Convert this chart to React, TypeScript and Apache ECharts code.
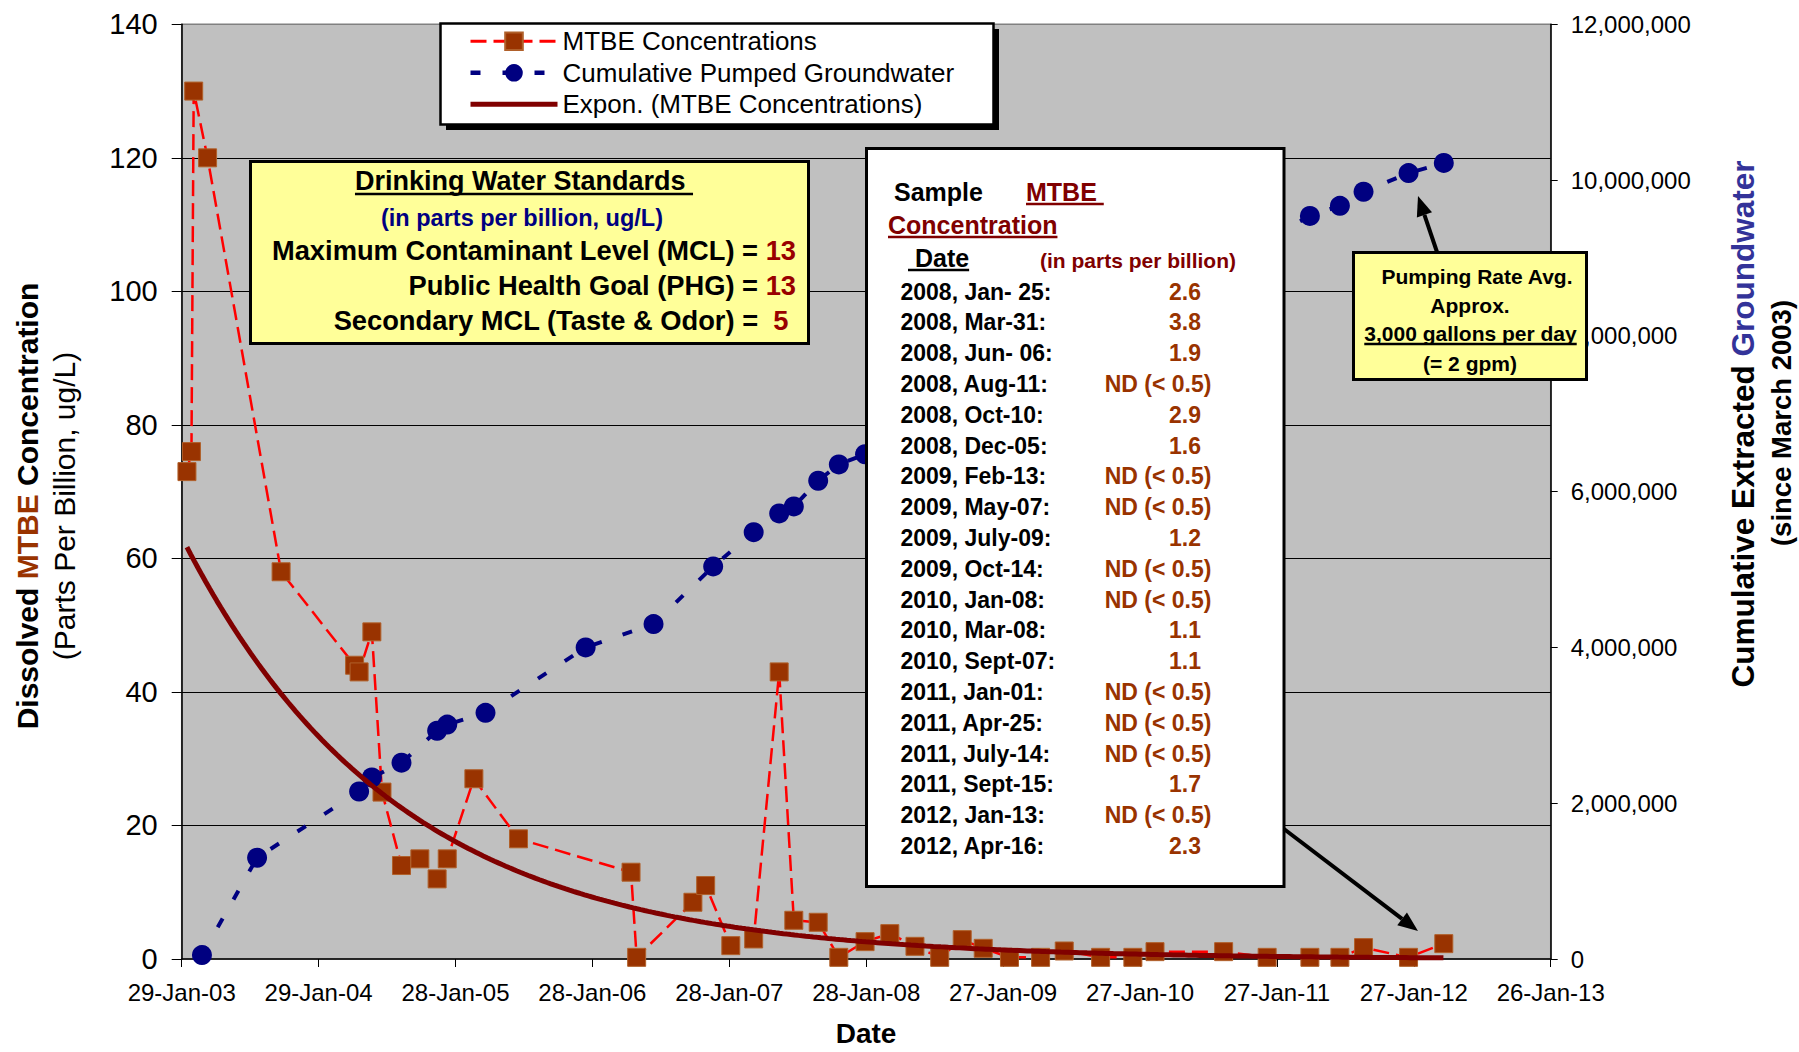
import React, { useEffect, useRef } from "react";
import * as echarts from "echarts";

// ---------------- DATA ----------------
const BASE_DATE = "2003-01-29"; // first x-axis tick
const X_MAX_DAYS = 3650; // last tick 26-Jan-13
const X_STEP_DAYS = 365;

const LEFT_MAX = 140;
const LEFT_STEP = 20;
const RIGHT_MAX = 12000000;
const RIGHT_STEP = 2000000;

// MTBE samples (ND plotted at 0.25 = half the 0.5 detection limit)
const mtbeDates = [
  "2003-02-12", "2003-02-24", "2003-03-02", "2003-04-08", "2003-10-21",
  "2004-05-04", "2004-05-16", "2004-06-19", "2004-07-16", "2004-09-06",
  "2004-10-25", "2004-12-10", "2005-01-06", "2005-03-18", "2005-07-15",
  "2006-05-11", "2006-05-26", "2006-10-23", "2006-11-26", "2007-02-01",
  "2007-04-03", "2007-06-10", "2007-07-19", "2007-09-22", "2007-11-16",
  "2008-01-25", "2008-03-31", "2008-06-06", "2008-08-11", "2008-10-10",
  "2008-12-05", "2009-02-13", "2009-05-07", "2009-07-09", "2009-10-14",
  "2010-01-08", "2010-03-08", "2010-09-07", "2011-01-01", "2011-04-25",
  "2011-07-14", "2011-09-15", "2012-01-13", "2012-04-16",
];
const mtbeValues = [
  73, 76, 130, 120, 58,
  44, 43, 49, 25, 14,
  15, 12, 15, 27, 18,
  13, 0.25, 8.5, 11, 2,
  3, 43, 5.8, 5.5, 0.25,
  2.6, 3.8, 1.9, 0.25, 2.9,
  1.6, 0.25, 0.25, 1.2, 0.25,
  0.25, 1.1, 1.1, 0.25, 0.25,
  0.25, 1.7, 0.25, 2.3,
];

// Cumulative pumped groundwater (gallons), points visible in the picture
const pumpDates = [
  "2003-03-24", "2003-08-18", "2004-05-16", "2004-06-19", "2004-09-06",
  "2004-12-10", "2005-01-06", "2005-04-18", "2006-01-10", "2006-07-10",
  "2006-12-16", "2007-04-03", "2007-06-10", "2007-07-19", "2007-09-22",
  "2007-11-16", "2008-01-25",
  "2011-04-25", "2011-07-14", "2011-09-15", "2012-01-13", "2012-04-16",
];
const pumpValues = [
  50000, 1300000, 2150000, 2330000, 2520000,
  2930000, 3010000, 3160000, 4000000, 4300000,
  5040000, 5480000, 5720000, 5810000, 6140000,
  6350000, 6480000,
  9540000, 9670000, 9850000, 10090000, 10220000,
];

// Table of recent samples
const tableDates = [
  "2008, Jan- 25:", "2008, Mar-31:", "2008, Jun- 06:", "2008, Aug-11:",
  "2008, Oct-10:", "2008, Dec-05:", "2009, Feb-13:", "2009, May-07:",
  "2009, July-09:", "2009, Oct-14:", "2010, Jan-08:", "2010, Mar-08:",
  "2010, Sept-07:", "2011, Jan-01:", "2011, Apr-25:", "2011, July-14:",
  "2011, Sept-15:", "2012, Jan-13:", "2012, Apr-16:",
];
const tableResults = [
  "2.6", "3.8", "1.9", "ND (< 0.5)",
  "2.9", "1.6", "ND (< 0.5)", "ND (< 0.5)",
  "1.2", "ND (< 0.5)", "ND (< 0.5)", "1.1",
  "1.1", "ND (< 0.5)", "ND (< 0.5)", "ND (< 0.5)",
  "1.7", "ND (< 0.5)", "2.3",
];

const seriesNames = [
  "MTBE Concentrations",
  "Cumulative Pumped Groundwater",
  "Expon. (MTBE Concentrations)",
];

// ---------------- HELPERS ----------------
const FONT = '"Liberation Sans", Arial, Helvetica, sans-serif';
const DAY_MS = 86400000;
const BASE_MS = Date.parse(BASE_DATE + "T00:00:00Z");
const MONTHS = ["Jan", "Feb", "Mar", "Apr", "May", "Jun", "Jul", "Aug", "Sep", "Oct", "Nov", "Dec"];

const toDay = (iso: string) => Math.round((Date.parse(iso + "T00:00:00Z") - BASE_MS) / DAY_MS);
const fmtDate = (days: number) => {
  const d = new Date(BASE_MS + Math.round(days) * DAY_MS);
  const dd = String(d.getUTCDate()).padStart(2, "0");
  const yy = String(d.getUTCFullYear() % 100).padStart(2, "0");
  return `${dd}-${MONTHS[d.getUTCMonth()]}-${yy}`;
};

// Exponential least-squares trend (as Excel's "Expon." trendline)
function expTrend(xs: number[], ys: number[]) {
  const n = xs.length;
  const ly = ys.map((v) => Math.log(v));
  const mx = xs.reduce((s, v) => s + v, 0) / n;
  const my = ly.reduce((s, v) => s + v, 0) / n;
  let sxy = 0;
  let sxx = 0;
  for (let i = 0; i < n; i++) {
    sxy += (xs[i] - mx) * (ly[i] - my);
    sxx += (xs[i] - mx) * (xs[i] - mx);
  }
  const b = sxy / sxx;
  const a = my - b * mx;
  const out: number[][] = [];
  const x0 = Math.min(...xs);
  const x1 = Math.max(...xs);
  for (let x = x0; x < x1; x += 10) out.push([x, Math.exp(a + b * x)]);
  out.push([x1, Math.exp(a + b * x1)]);
  return out;
}

let measureCtx: CanvasRenderingContext2D | null = null;
function measure(text: string, size: number, weight = "bold") {
  if (!measureCtx) measureCtx = document.createElement("canvas").getContext("2d");
  if (!measureCtx) return text.length * size * 0.55;
  measureCtx.font = `${weight} ${size}px ${FONT}`;
  return measureCtx.measureText(text).width;
}

type Align = "left" | "center" | "right";
function txt(text: string, x: number, y: number, size: number, fill = "#000", align: Align = "left", weight = "bold", z = 17) {
  return {
    type: "text",
    x,
    y,
    z,
    silent: true,
    style: {
      text,
      fill,
      fontSize: size,
      fontWeight: weight,
      fontFamily: FONT,
      align,
      verticalAlign: "middle",
      textAlign: align,
      textVerticalAlign: "middle",
    },
  };
}

function underline(x1: number, x2: number, y: number, color = "#000", w = 2.5) {
  return {
    type: "line",
    z: 17,
    silent: true,
    shape: { x1, y1: y, x2, y2: y },
    style: { stroke: color, lineWidth: w },
  };
}

function rectBox(x: number, y: number, w: number, h: number, fill: string, lw = 3, z = 15) {
  return {
    type: "rect",
    z,
    silent: true,
    shape: { x, y, width: w, height: h },
    style: { fill, stroke: "#000", lineWidth: lw },
  };
}

function arrow(x1: number, y1: number, x2: number, y2: number) {
  const dx = x2 - x1;
  const dy = y2 - y1;
  const L = Math.hypot(dx, dy);
  const ux = dx / L;
  const uy = dy / L;
  const headLen = 20;
  const half = 8;
  const bx = x2 - ux * headLen;
  const by = y2 - uy * headLen;
  const px = -uy;
  const py = ux;
  return [
    { type: "line", z: 18, silent: true, shape: { x1, y1, x2: bx, y2: by }, style: { stroke: "#000", lineWidth: 4 } },
    {
      type: "polygon",
      z: 18,
      silent: true,
      shape: { points: [[x2, y2], [bx + px * half, by + py * half], [bx - px * half, by - py * half]] },
      style: { fill: "#000" },
    },
  ];
}

// ---------------- COMPONENT ----------------
export default function App() {
  const ref = useRef<HTMLDivElement>(null);

  useEffect(() => {
    if (!ref.current) return;
    const chart = echarts.init(ref.current, undefined, { renderer: "svg" });

    const mtbeDays = mtbeDates.map(toDay);
    const mtbeData = mtbeDays.map((d, i) => [d, mtbeValues[i]]);
    const pumpData = pumpDates.map((d, i) => [toDay(d), pumpValues[i]]);
    const trendData = expTrend(mtbeDays, mtbeValues);

    const graphics: any[] = [];

    // Legend frame with shadow
    graphics.push({ type: "rect", z: 14, silent: true, shape: { x: 446, y: 29, width: 553, height: 101 }, style: { fill: "#000" } });
    graphics.push(rectBox(440.5, 23.5, 553, 101, "#fff", 2.5, 15));

    // Drinking water standards box
    graphics.push(rectBox(250.5, 161.5, 558, 182, "#FFFF99", 3));
    const dwsTitle = "Drinking Water Standards ";
    const dwsW = measure(dwsTitle, 27);
    graphics.push(txt(dwsTitle, 524, 181, 27, "#000", "center"));
    graphics.push(underline(524 - dwsW / 2, 524 + dwsW / 2, 194, "#000", 2.5));
    graphics.push(txt("(in parts per billion, ug/L)", 522, 218, 23.5, "#000080", "center"));
    const dwsRows: [string, string, number][] = [
      ["Maximum Contaminant Level (MCL) = ", "13", 250],
      ["Public Health Goal (PHG) = ", "13", 285],
      ["Secondary MCL (Taste & Odor) =  ", "5 ", 320],
    ];
    dwsRows.forEach(([label, val, y]) => {
      graphics.push({
        type: "text",
        x: 796,
        y,
        z: 17,
        silent: true,
        style: {
          text: `{k|${label}}{v|${val}}`,
          align: "right",
          verticalAlign: "middle",
          textAlign: "right",
          textVerticalAlign: "middle",
          fontSize: 27.3,
          fontWeight: "bold",
          fontFamily: FONT,
          rich: {
            k: { fill: "#000", fontSize: 27.3, fontWeight: "bold", fontFamily: FONT },
            v: { fill: "#990000", fontSize: 27.3, fontWeight: "bold", fontFamily: FONT },
          },
        },
      });
    });

    // Table box
    graphics.push(rectBox(866.5, 148.5, 417.5, 738, "#fff", 3));
    graphics.push(txt("Sample", 894, 192, 25, "#000", "left"));
    const mtbeW = measure("MTBE ", 25);
    graphics.push(txt("MTBE ", 1026, 192, 25, "#800000", "left"));
    graphics.push(underline(1026, 1026 + mtbeW, 204, "#800000", 2.5));
    const concW = measure("Concentration", 25);
    graphics.push(txt("Concentration", 888, 225, 25, "#800000", "left"));
    graphics.push(underline(888, 888 + concW, 237, "#800000", 2.5));
    const dateW = measure(" Date", 25);
    graphics.push(txt(" Date", 908, 258, 25, "#000", "left"));
    graphics.push(underline(908, 908 + dateW, 270, "#000", 2.5));
    graphics.push(txt("(in parts per billion)", 1040, 260, 21, "#800000", "left"));
    tableDates.forEach((d, i) => {
      const y = 291.7 + i * 30.79;
      graphics.push(txt(d, 900.5, y, 23, "#000", "left"));
      const r = tableResults[i];
      const isND = r.indexOf("ND") === 0;
      graphics.push(txt(r, isND ? 1158 : 1185, y, 23, "#993300", "center"));
    });

    // Pumping rate box
    graphics.push(rectBox(1353.5, 252.5, 233, 127, "#FFFF99", 3));
    graphics.push(txt("Pumping Rate Avg.", 1477, 276, 21, "#000", "center"));
    graphics.push(txt("Approx.", 1470, 305, 21, "#000", "center"));
    const gW = measure("3,000 gallons per day", 21);
    graphics.push(txt("3,000 gallons per day", 1470.5, 333, 21, "#000", "center"));
    graphics.push(underline(1470.5 - gW / 2, 1470.5 + gW / 2, 344, "#000", 2.5));
    graphics.push(txt("(= 2 gpm)", 1470, 363, 21, "#000", "center"));

    // Arrows
    graphics.push(...arrow(1284, 829, 1418, 931));
    graphics.push(...arrow(1437, 252, 1418, 196));

    // Axis titles
    graphics.push({
      type: "text",
      x: 27,
      y: 506,
      rotation: Math.PI / 2,
      z: 17,
      silent: true,
      style: {
        text: "{a|Dissolved }{b|MTBE}{a| Concentration}",
        align: "center",
        verticalAlign: "middle",
        textAlign: "center",
        textVerticalAlign: "middle",
        fontSize: 30,
        fontWeight: "bold",
        fontFamily: FONT,
        rich: {
          a: { fill: "#000", fontSize: 30, fontWeight: "bold", fontFamily: FONT },
          b: { fill: "#993300", fontSize: 30, fontWeight: "bold", fontFamily: FONT },
        },
      },
    });
    graphics.push({ ...txt("(Parts Per Billion, ug/L)", 64, 506, 30, "#000", "center", "normal"), rotation: Math.PI / 2 });
    graphics.push({
      type: "text",
      x: 1743,
      y: 424,
      rotation: Math.PI / 2,
      z: 17,
      silent: true,
      style: {
        text: "{a|Cumulative Extracted }{b|Groundwater}",
        align: "center",
        verticalAlign: "middle",
        textAlign: "center",
        textVerticalAlign: "middle",
        fontSize: 31.5,
        fontWeight: "bold",
        fontFamily: FONT,
        rich: {
          a: { fill: "#000", fontSize: 31.5, fontWeight: "bold", fontFamily: FONT },
          b: { fill: "#333399", fontSize: 31.5, fontWeight: "bold", fontFamily: FONT },
        },
      },
    });
    graphics.push({ ...txt("(since March 2003)", 1781, 423, 27.5, "#000", "center"), rotation: Math.PI / 2 });
    graphics.push(txt("Date", 866, 1033, 28, "#000", "center"));

    const option: any = {
      animation: false,
      backgroundColor: "#ffffff",
      textStyle: { fontFamily: FONT },
      grid: {
        left: 181.7,
        right: 248.3,
        top: 24.3,
        bottom: 93,
        show: true,
        backgroundColor: "#C0C0C0",
        borderColor: "#808080",
        borderWidth: 1.5,
        containLabel: false,
        outerBoundsMode: "none",
      },
      legend: {
        show: true,
        orient: "vertical",
        left: 468,
        top: 28.3,
        itemWidth: 87,
        itemHeight: 22,
        itemGap: 5.5,
        padding: 0,
        z: 20,
        selectedMode: false,
        backgroundColor: "transparent",
        textStyle: { fontSize: 26, color: "#000", fontFamily: FONT },
        data: [
          { name: seriesNames[0], lineStyle: { width: 3 } },
          { name: seriesNames[1], lineStyle: { width: 4.5 } },
          {
            name: seriesNames[2],
            lineStyle: { width: 5 },
            itemStyle: { color: "rgba(0,0,0,0)", borderColor: "rgba(0,0,0,0)", borderWidth: 0 },
          },
        ],
      },
      xAxis: {
        type: "value",
        min: 0,
        max: X_MAX_DAYS,
        interval: X_STEP_DAYS,
        axisLine: { show: true, onZero: false, lineStyle: { color: "#000", width: 1.5 } },
        axisTick: { show: true, inside: false, length: 8, lineStyle: { color: "#000", width: 1 } },
        axisLabel: { show: true, fontSize: 24, color: "#000", margin: 21, fontFamily: FONT, formatter: (v: number) => fmtDate(v) },
        splitLine: { show: false },
      },
      yAxis: [
        {
          type: "value",
          position: "left",
          min: 0,
          max: LEFT_MAX,
          interval: LEFT_STEP,
          axisLine: { show: true, lineStyle: { color: "#000", width: 1.5 } },
          axisTick: { show: true, inside: false, length: 10, lineStyle: { color: "#000", width: 1 } },
          axisLabel: { fontSize: 29, color: "#000", margin: 24, fontFamily: FONT },
          splitLine: { show: true, showMaxLine: false, showMinLine: false, lineStyle: { color: "#000", width: 1 } },
        },
        {
          type: "value",
          position: "right",
          min: 0,
          max: RIGHT_MAX,
          interval: RIGHT_STEP,
          axisLine: { show: true, lineStyle: { color: "#000", width: 1.5 } },
          axisTick: { show: true, inside: false, length: 7, lineStyle: { color: "#000", width: 1 } },
          axisLabel: {
            fontSize: 24,
            color: "#000",
            margin: 20,
            fontFamily: FONT,
            formatter: (v: number) => v.toLocaleString("en-US"),
          },
          splitLine: { show: false },
        },
      ],
      series: [
        {
          name: seriesNames[0],
          type: "line",
          xAxisIndex: 0,
          yAxisIndex: 0,
          data: mtbeData,
          symbol: "rect",
          symbolSize: 18,
          itemStyle: { color: "#993300", borderColor: "#B0602A", borderWidth: 1 },
          lineStyle: { color: "#FF0000", width: 2.5, type: [16, 7] },
          z: 3,
        },
        {
          name: seriesNames[1],
          type: "line",
          xAxisIndex: 0,
          yAxisIndex: 1,
          data: pumpData,
          symbol: "circle",
          symbolSize: 20,
          itemStyle: { color: "#000080" },
          lineStyle: { color: "#000080", width: 4, type: [10, 22] },
          z: 3,
        },
        {
          name: seriesNames[2],
          type: "line",
          xAxisIndex: 0,
          yAxisIndex: 0,
          data: trendData,
          symbol: "none",
          smooth: false,
          lineStyle: { color: "#800000", width: 5 },
          z: 4,
        },
      ],
      graphic: { elements: graphics },
    };

    chart.setOption(option);
    return () => {
      chart.dispose();
    };
  }, []);

  return (
    <div
      ref={ref}
      style={{ position: "absolute", left: 0, top: 0, width: 1799, height: 1052, background: "#fff" }}
    />
  );
}
